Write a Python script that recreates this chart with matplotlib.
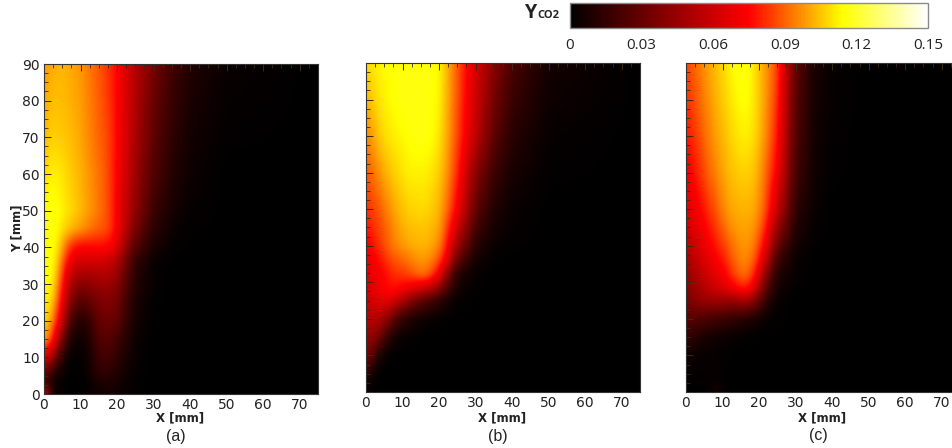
import numpy as np
import matplotlib
matplotlib.use('Agg')
from matplotlib import pyplot as plt
from matplotlib.colors import LinearSegmentedColormap, Normalize
from matplotlib.cm import ScalarMappable
from matplotlib.ticker import MultipleLocator

W, H = 953, 448

# grid nodes in mm
xs = [0, 2, 4, 6, 8, 10, 12, 14, 16, 18, 20, 22, 25, 30, 35, 40, 50, 75]
ys = [0, 3, 6, 10, 15, 20, 25, 28, 32, 36, 40, 45, 50, 60, 70, 80, 90]

# Y_CO2 x 1000, one row per y node
field_a = [
    [70, 6, 2, 1, 0, 0, 2, 4, 6, 6, 5, 3, 1, 0, 0, 0, 0, 0],
    [25, 8, 3, 1, 0, 0, 2, 6, 9, 9, 7, 4, 1, 0, 0, 0, 0, 0],
    [35, 18, 6, 2, 0, 1, 4, 12, 15, 14, 10, 6, 2, 0, 0, 0, 0, 0],
    [68, 50, 22, 6, 1, 2, 5, 15, 20, 20, 14, 9, 3, 0, 0, 0, 0, 0],
    [102, 84, 50, 20, 5, 5, 8, 20, 26, 25, 20, 13, 4, 0, 0, 0, 0, 0],
    [110, 98, 74, 40, 15, 12, 14, 25, 32, 32, 29, 18, 6, 0, 0, 0, 0, 0],
    [112, 108, 84, 54, 30, 25, 28, 34, 38, 38, 35, 22, 8, 1, 0, 0, 0, 0],
    [113, 112, 90, 60, 40, 34, 36, 40, 42, 42, 38, 25, 10, 2, 0, 0, 0, 0],
    [114, 115, 96, 68, 52, 48, 48, 50, 52, 50, 44, 30, 12, 2, 0, 0, 0, 0],
    [115, 116, 102, 78, 66, 62, 62, 62, 62, 58, 52, 36, 15, 3, 0, 0, 0, 0],
    [115, 116, 108, 90, 78, 75, 75, 76, 76, 74, 66, 46, 25, 8, 2, 0, 0, 0],
    [115, 117, 112, 106, 102, 98, 94, 90, 88, 84, 72, 58, 35, 13, 4, 1, 0, 0],
    [114, 117, 114, 110, 107, 103, 99, 95, 90, 85, 72, 60, 42, 18, 7, 2, 0, 0],
    [108, 112, 111, 108, 105, 102, 98, 94, 90, 84, 74, 64, 46, 24, 11, 4, 0, 0],
    [103, 107, 106, 105, 103, 100, 96, 92, 88, 84, 75, 66, 50, 28, 14, 6, 1, 0],
    [100, 104, 104, 103, 101, 99, 95, 91, 87, 82, 75, 66, 52, 31, 17, 8, 2, 0],
    [98, 101, 103, 102, 100, 98, 94, 90, 86, 81, 75, 66, 54, 35, 20, 10, 3, 0],
]

field_b = [
    [3, 0, 0, 0, 0, 0, 0, 0, 0, 0, 0, 0, 0, 0, 0, 0, 0, 0],
    [8, 1, 0, 0, 0, 0, 0, 0, 0, 0, 0, 0, 0, 0, 0, 0, 0, 0],
    [22, 6, 1, 0, 0, 0, 0, 0, 0, 0, 0, 0, 0, 0, 0, 0, 0, 0],
    [38, 22, 8, 2, 0, 0, 0, 0, 0, 0, 0, 0, 0, 0, 0, 0, 0, 0],
    [48, 42, 30, 14, 6, 3, 2, 1, 0, 0, 0, 0, 0, 0, 0, 0, 0, 0],
    [55, 55, 50, 40, 24, 15, 10, 7, 5, 3, 2, 1, 0, 0, 0, 0, 0, 0],
    [58, 62, 68, 68, 60, 50, 40, 32, 26, 20, 14, 8, 2, 0, 0, 0, 0, 0],
    [62, 67, 72, 76, 76, 72, 68, 62, 58, 50, 38, 22, 6, 1, 0, 0, 0, 0],
    [65, 70, 74, 78, 82, 83, 86, 90, 92, 84, 70, 40, 10, 2, 0, 0, 0, 0],
    [68, 73, 78, 84, 88, 91, 94, 97, 98, 94, 86, 68, 28, 6, 1, 0, 0, 0],
    [72, 78, 84, 90, 95, 98, 101, 102, 103, 100, 95, 78, 45, 12, 3, 1, 0, 0],
    [78, 82, 87, 92, 98, 102, 104, 105, 105, 103, 100, 85, 60, 20, 7, 2, 0, 0],
    [82, 85, 90, 96, 101, 105, 107, 108, 108, 106, 102, 92, 72, 28, 10, 3, 0, 0],
    [88, 93, 99, 104, 107, 110, 112, 112, 112, 110, 106, 98, 80, 40, 18, 7, 1, 0],
    [95, 101, 107, 110, 112, 113, 115, 116, 116, 114, 110, 101, 85, 56, 27, 12, 2, 0],
    [102, 107, 111, 113, 115, 116, 116, 116, 116, 115, 112, 102, 87, 60, 34, 17, 4, 0],
    [108, 111, 113, 114, 115, 116, 116, 116, 116, 115, 113, 103, 88, 63, 40, 22, 6, 0],
]

field_c = [
    [0, 0, 0, 1, 8, 3, 0, 0, 0, 0, 0, 0, 0, 0, 0, 0, 0, 0],
    [2, 1, 1, 2, 3, 1, 0, 0, 0, 0, 0, 0, 0, 0, 0, 0, 0, 0],
    [3, 2, 2, 2, 2, 2, 0, 0, 0, 0, 0, 0, 0, 0, 0, 0, 0, 0],
    [6, 4, 3, 2, 2, 1, 1, 0, 0, 0, 0, 0, 0, 0, 0, 0, 0, 0],
    [16, 12, 9, 7, 5, 4, 3, 2, 1, 1, 0, 0, 0, 0, 0, 0, 0, 0],
    [28, 26, 24, 22, 20, 18, 16, 14, 12, 9, 6, 3, 1, 0, 0, 0, 0, 0],
    [36, 40, 44, 46, 47, 46, 45, 48, 50, 44, 30, 14, 3, 0, 0, 0, 0, 0],
    [40, 45, 50, 55, 60, 64, 68, 74, 78, 70, 48, 24, 6, 1, 0, 0, 0, 0],
    [45, 50, 56, 62, 68, 72, 80, 88, 92, 85, 65, 38, 10, 2, 0, 0, 0, 0],
    [50, 55, 62, 68, 73, 78, 86, 93, 96, 92, 78, 55, 18, 3, 0, 0, 0, 0],
    [55, 60, 67, 73, 78, 84, 90, 96, 98, 96, 85, 68, 30, 6, 1, 0, 0, 0],
    [60, 65, 71, 77, 83, 90, 96, 99, 100, 99, 92, 78, 45, 10, 2, 0, 0, 0],
    [65, 70, 76, 82, 88, 95, 100, 102, 102, 102, 96, 85, 58, 14, 3, 0, 0, 0],
    [72, 77, 83, 90, 95, 100, 104, 106, 107, 106, 100, 90, 72, 20, 5, 1, 0, 0],
    [78, 82, 88, 94, 99, 103, 107, 110, 112, 110, 104, 95, 78, 24, 6, 1, 0, 0],
    [82, 86, 92, 97, 102, 106, 110, 113, 115, 112, 105, 97, 82, 26, 7, 2, 0, 0],
    [85, 90, 95, 100, 104, 108, 112, 116, 116, 112, 105, 98, 85, 28, 8, 2, 0, 0],
]

cbar_ticks = [0, 0.03, 0.06, 0.09, 0.12, 0.15]
cbar_labels = ['0', '0.03', '0.06', '0.09', '0.12', '0.15']

cmap = LinearSegmentedColormap.from_list(
    'co2', [(0, 'black'), (0.5, '#ff0000'), (0.76, '#ffff00'), (1, 'white')])
norm = Normalize(0, 0.15)

fig = plt.figure(figsize=(W / 100, H / 100), dpi=100)


def px_axes(x0, x1, y0, y1):
    # pixel box, y measured from the top of the image
    return fig.add_axes([x0 / W, 1 - y1 / H, (x1 - x0) / W, (y1 - y0) / H])


def smooth(field, n=7):
    # resample the table to 0.25 mm and box filter it, so the grid does not show
    fx = np.arange(0, 75.01, 0.25)
    fy = np.arange(0, 90.01, 0.25)
    arr = np.array(field, dtype=float)
    arr = np.array([np.interp(fx, xs, row) for row in arr])
    arr = np.array([np.interp(fy, ys, col) for col in arr.T]).T
    k = np.ones(n) / n
    for _ in range(3):
        pad = np.pad(arr, n // 2, mode='edge')
        pad = np.apply_along_axis(lambda v: np.convolve(v, k, mode='valid'), 0, pad)
        arr = np.apply_along_axis(lambda v: np.convolve(v, k, mode='valid'), 1, pad)
    return arr / 1000


def panel(box, field):
    ax = px_axes(*box)
    ax.imshow(smooth(field), origin='lower', extent=(0, 75, 0, 90), aspect='auto',
              cmap=cmap, norm=norm, interpolation='bilinear')
    ax.set_xlim(0, 75)
    ax.set_ylim(0, 90)
    ax.xaxis.set_major_locator(MultipleLocator(10))
    ax.yaxis.set_major_locator(MultipleLocator(10))
    ax.xaxis.set_minor_locator(MultipleLocator(2.5))
    ax.yaxis.set_minor_locator(MultipleLocator(2.5))
    ax.tick_params(which='major', direction='in', length=5, width=0.7, color='#3a2a10',
                   top=True, bottom=False, labelsize=10, labelcolor='#222222', pad=3)
    ax.tick_params(which='minor', direction='in', length=3, width=0.6, color='#3a2a10',
                   top=True, bottom=False)
    for s in ax.spines.values():
        s.set_linewidth(0.8)
        s.set_color('#333333')
    return ax


ax_a = panel((44, 318, 64, 394), field_a)
ax_b = panel((366, 640, 63, 392), field_b)
ax_c = panel((686, 960, 63, 392), field_c)
ax_b.tick_params(labelleft=False)
ax_c.tick_params(labelleft=False)


def label(x, y, s, **kw):
    fig.text(x / W, 1 - y / H, s, ha='center', va='center', **kw)


label(17, 228, 'Y [mm]', rotation=90, fontsize=8.5, fontweight='bold', color='#222222')
label(180, 418, 'X [mm]', fontsize=8.5, fontweight='bold', color='#222222')
label(502, 418, 'X [mm]', fontsize=8.5, fontweight='bold', color='#222222')
label(822, 418, 'X [mm]', fontsize=8.5, fontweight='bold', color='#222222')
for x, y, s in [(176, 436, '(a)'), (498, 436, '(b)'), (818, 435, '(c)')]:
    label(x, y, s, fontsize=11.5, family='Liberation Sans', color='#222222')

# colour bar
cax = px_axes(570, 928, 3, 28)
cb = fig.colorbar(ScalarMappable(norm=norm, cmap=cmap), cax=cax, orientation='horizontal')
cb.set_ticks(cbar_ticks)
cb.set_ticklabels(cbar_labels)
cb.ax.tick_params(length=0, pad=7, labelsize=11, labelcolor='#222222')
for t in cb.ax.get_xticklabels():
    t.set_family('Open Sans')
cb.outline.set_edgecolor('#8a8a8a')
cb.outline.set_linewidth(1)

fig.text(525 / W, 1 - 13 / H, 'Y', fontsize=14, fontweight='bold', family='Open Sans',
         ha='left', va='center', color='#222222')
fig.text(537 / W, 1 - 16 / H, 'CO2', fontsize=8, fontweight='bold', family='Open Sans',
         ha='left', va='center', color='#222222')

fig.savefig('out.png', dpi=100)
